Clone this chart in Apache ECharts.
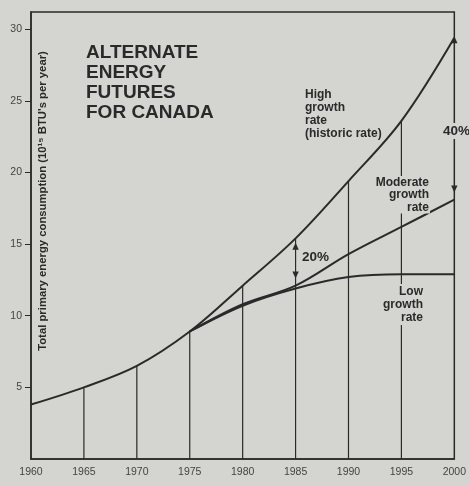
<!DOCTYPE html>
<html><head><meta charset="utf-8">
<script src="https://cdn.jsdelivr.net/npm/echarts@6/dist/echarts.min.js"></script>
<style>html,body{margin:0;padding:0;background:#d4d4d0;}#c{width:469px;height:485px;}</style>
</head><body><div id="c"></div>
<script>
// ---- data ----
const years = [1960, 1965, 1970, 1975, 1980, 1985, 1990, 1995, 2000];
const highGrowth = [3.8, 5.0, 6.5, 8.9, 12.1, 15.4, 19.4, 23.6, 29.4];
const moderateGrowth = [null, null, null, 8.9, 10.8, 12.1, 14.3, 16.2, 18.1];
const lowGrowth = [null, null, null, 8.9, 10.7, 11.9, 12.7, 12.9, 12.9];
const xTickLabels = ['1960', '1965', '1970', '1975', '1980', '1985', '1990', '1995', '2000'];
const yTickValues = [5, 10, 15, 20, 25, 30];
const dropYears = [1965, 1970, 1975, 1980, 1985, 1990, 1995];
const arrowYears = [1985, 2000];
const arrowLow = [12.6, 18.6];
const arrowHigh = [15.1, 29.5];
const arrowLabels = ['20%', '40%'];
const titleText = 'ALTERNATE\nENERGY\nFUTURES\nFOR CANADA';
const yAxisTitle = "Total primary energy consumption (10\u00B9\u2075 BTU's per year)";

// ---- build ----
const INK = '#2a2a2a';
const BG = '#d4d4d0';
const FONT = '"Liberation Sans", Arial, sans-serif';

function pairs(vals) {
  const out = [];
  years.forEach((y, i) => { if (vals[i] != null) out.push([y, vals[i]]); });
  return out;
}
const dropData = dropYears.map(y => [y, highGrowth[years.indexOf(y)]]);
const arrowData = arrowYears.map((y, i) => [y, arrowLow[i], arrowHigh[i]]);

const chart = echarts.init(document.getElementById('c'), null, {renderer: 'canvas'});
const lineStyle = {color: INK, width: 2};

chart.setOption({
  backgroundColor: BG,
  animation: false,
  grid: {left: 31, top: 12, right: 13, bottom: 26, show: true, borderColor: INK, borderWidth: 1.5, backgroundColor: 'transparent'},
  xAxis: {
    type: 'value', min: 1960, max: 2000, interval: 5,
    axisLine: {show: true, lineStyle: {color: INK, width: 1.5}},
    axisTick: {show: false},
    splitLine: {show: false},
    axisLabel: {
      margin: 8, color: '#444', fontSize: 10.5, fontFamily: FONT,
      formatter: v => { const i = years.indexOf(v); return i >= 0 ? xTickLabels[i] : ''; }
    }
  },
  yAxis: {
    type: 'value', min: 0, max: 31.2,
    axisLine: {show: true, lineStyle: {color: INK, width: 1.5}},
    axisTick: {show: true, inside: false, length: 6, lineStyle: {color: INK, width: 1}, customValues: yTickValues},
    splitLine: {show: false},
    axisLabel: {margin: 9, color: '#444', fontSize: 10.5, fontFamily: FONT, customValues: yTickValues}
  },
  series: [
    {type: 'custom', name: 'drops', data: dropData, z: 1,
      renderItem: (params, api) => {
        const x = api.value(0), top = api.value(1);
        const p0 = api.coord([x, 0]), p1 = api.coord([x, top]);
        return {type: 'line', shape: {x1: p0[0], y1: p0[1], x2: p1[0], y2: p1[1]}, style: {stroke: INK, lineWidth: 1.2}};
      }},
    {type: 'line', name: 'High', data: pairs(highGrowth), smooth: 0.35, symbol: 'none', lineStyle, z: 3},
    {type: 'line', name: 'Moderate', data: pairs(moderateGrowth), smooth: 0.35, symbol: 'none', lineStyle, z: 3},
    {type: 'line', name: 'Low', data: pairs(lowGrowth), smooth: 0.35, symbol: 'none', lineStyle, z: 3},
    {type: 'custom', name: 'arrows', data: arrowData, z: 4,
      renderItem: (params, api) => {
        const x = api.value(0);
        const lo = api.coord([x, api.value(1)]);
        const hi = api.coord([x, api.value(2)]);
        const w = 3.2, h = 7;
        return {type: 'group', children: [
          {type: 'polygon', shape: {points: [[hi[0], hi[1]], [hi[0] - w, hi[1] + h], [hi[0] + w, hi[1] + h]]}, style: {fill: INK}},
          {type: 'polygon', shape: {points: [[lo[0], lo[1]], [lo[0] - w, lo[1] - h], [lo[0] + w, lo[1] - h]]}, style: {fill: INK}}
        ]};
      }}
  ],
  graphic: [
    {type: 'text', z: 100, left: 86, top: 43, style: {text: titleText, font: 'bold 19px ' + FONT, fill: INK, lineHeight: 20}},
    {type: 'text', z: 100, x: 43, y: 201, rotation: Math.PI / 2,
      style: {text: yAxisTitle, font: 'bold 11.3px ' + FONT, fill: INK, align: 'center', verticalAlign: 'middle'}},
    {type: 'text', z: 100, x: 305, y: 88, style: {text: 'High\ngrowth\nrate\n(historic rate)', font: 'bold 12px ' + FONT, fill: INK, lineHeight: 13, backgroundColor: BG}},
    {type: 'text', z: 100, x: 430, y: 176, style: {text: 'Moderate\ngrowth\nrate', font: 'bold 12px ' + FONT, fill: INK, lineHeight: 12.5, align: 'right', backgroundColor: BG, padding: [0, 1, 0, 2]}},
    {type: 'text', z: 100, x: 424, y: 284, style: {text: 'Low\ngrowth\nrate', font: 'bold 12px ' + FONT, fill: INK, lineHeight: 13, align: 'right', backgroundColor: BG, padding: [1, 1, 1, 2]}},
    {type: 'text', z: 100, x: 302, y: 250, style: {text: arrowLabels[0], font: 'bold 13.5px ' + FONT, fill: INK}},
    {type: 'text', z: 100, x: 443, y: 123, style: {text: arrowLabels[1], font: 'bold 13.5px ' + FONT, fill: INK, backgroundColor: BG, padding: [1, 0, 1, 0]}}
  ]
});
</script>
</body></html>
